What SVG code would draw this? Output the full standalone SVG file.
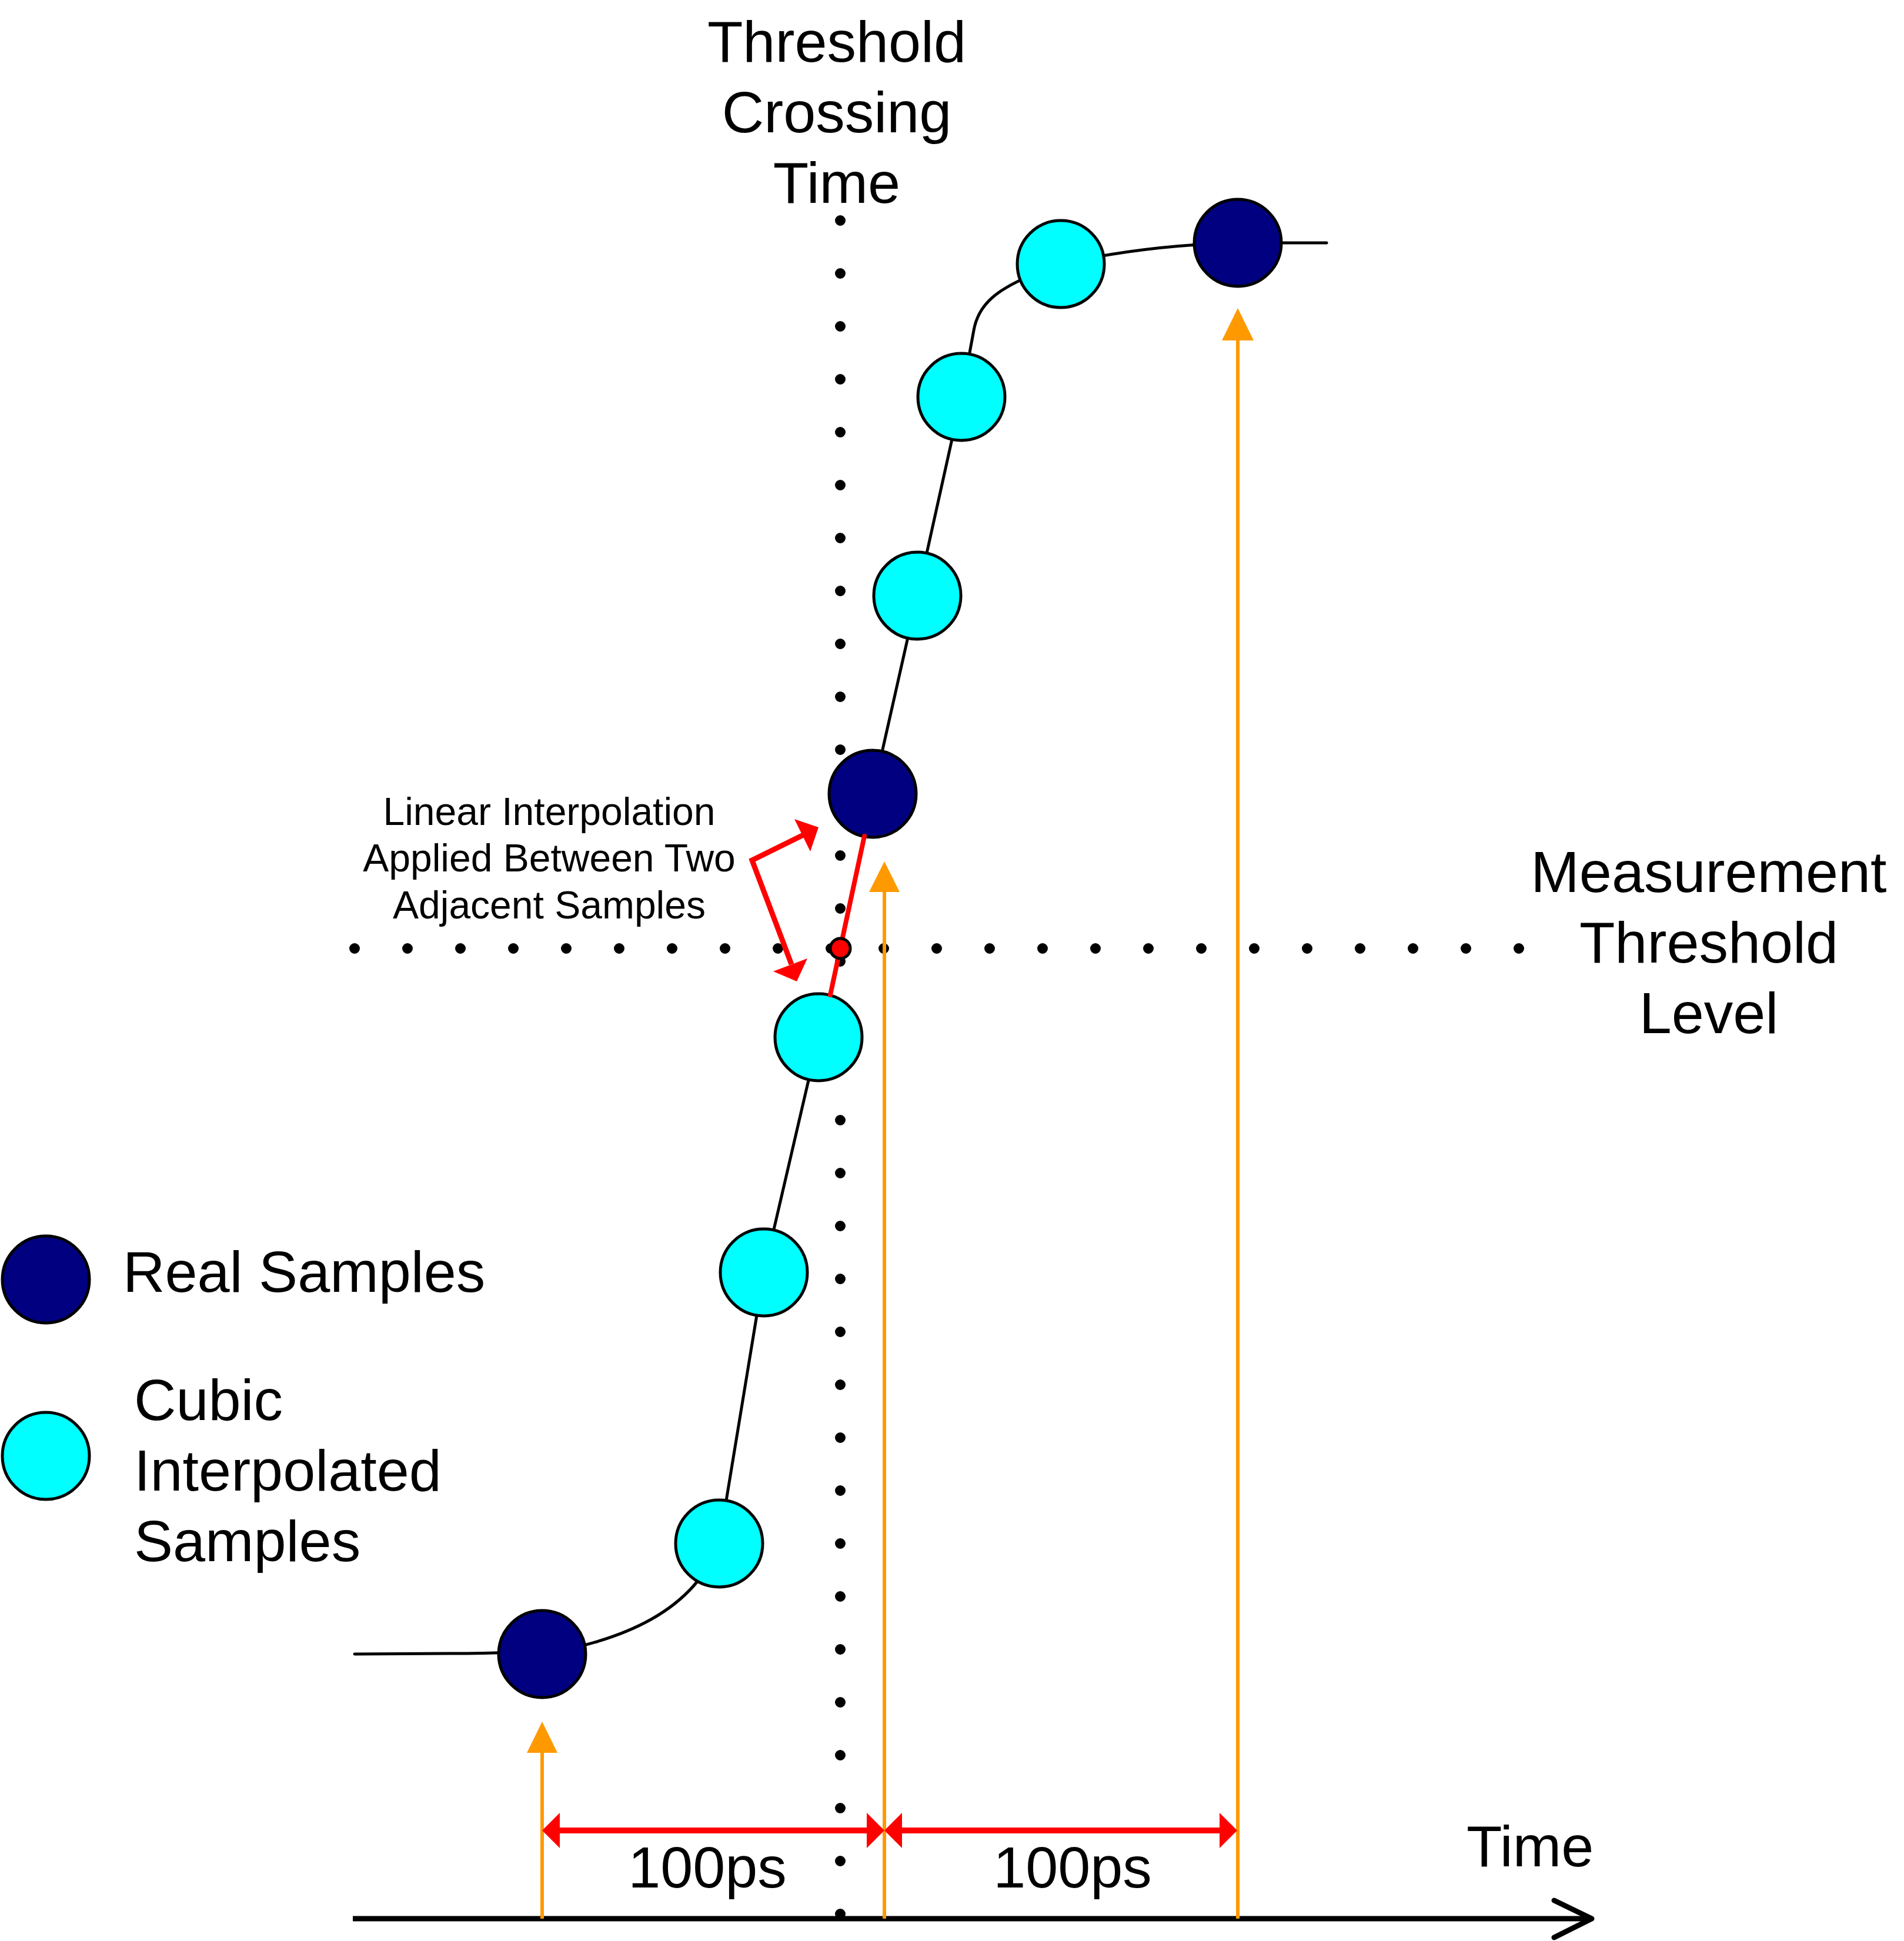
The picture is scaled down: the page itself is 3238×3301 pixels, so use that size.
<svg xmlns="http://www.w3.org/2000/svg" width="3238" height="3301" viewBox="0 0 3238 3301">
<style>
text{font-family:"Liberation Sans",Arial,sans-serif;fill:#000}
.big{font-size:99px}
.small{font-size:66px}
.mid{text-anchor:middle}
.real{fill:#000080;stroke:#000;stroke-width:5}
.cubic{fill:#00FFFF;stroke:#000;stroke-width:5}
.dots{fill:none;stroke:#000;stroke-width:18;stroke-linecap:round;stroke-dasharray:0 90}
.curve{fill:none;stroke:#000;stroke-width:5;stroke-linecap:round}
.orange{stroke:#FF9900;stroke-width:6;fill:none}
.ohead{fill:#FF9900}
.red{stroke:#FF0000;fill:none}
.rhead{fill:#FF0000}
</style>
<rect width="3238" height="3301" fill="#fff"/>

<g id="threshold-lines">
<line class="dots" x1="1429" y1="375" x2="1429" y2="3275"/>
<line class="dots" x1="603" y1="1613" x2="2600" y2="1613"/>
</g>

<g id="time-axis">
<line x1="600" y1="3263" x2="2700" y2="3263" stroke="#000" stroke-width="9"/>
<polyline points="2643,3232 2707,3263 2643,3295" fill="none" stroke="#000" stroke-width="9" stroke-linecap="round" stroke-linejoin="round"/>
</g>

<g id="connectors">
<path class="curve" d="M 603 2813 L 780 2812 Q 830 2812 922 2808 M 922 2813 C 1060 2790 1180 2740 1223 2625 L 1299 2164 L 1392 1764"/>
<path class="curve" d="M 1484 1350 L 1560 1013 L 1635 675 L 1656 562 C 1664 515 1700 492 1745 472 L 1804 449 C 1880 432 1980 416 2105 413 L 2256 413"/>
<g id="sample-arrows">
<line class="orange" x1="922" y1="3263" x2="922" y2="2975"/>
<polygon class="ohead" points="922,2928 896,2981 948,2981"/>
<line class="orange" x1="1504" y1="3263" x2="1504" y2="1512"/>
<polygon class="ohead" points="1504,1465 1478,1517 1530,1517"/>
<line class="orange" x1="2105" y1="3263" x2="2105" y2="574"/>
<polygon class="ohead" points="2105,524 2078,579 2132,579"/>
</g>
<g id="dimension-arrows">
<line class="red" x1="950" y1="3113" x2="1476" y2="3113" stroke-width="10"/>
<polygon class="rhead" points="922,3113 952,3083 952,3143"/>
<polygon class="rhead" points="1504,3113 1474,3083 1474,3143"/>
<line class="red" x1="1532" y1="3113" x2="2076" y2="3113" stroke-width="10"/>
<polygon class="rhead" points="1504,3113 1534,3083 1534,3143"/>
<polygon class="rhead" points="2104,3113 2074,3083 2074,3143"/>
</g>
<g id="annotation-arrow">
<polyline class="red" points="1366,1420 1279,1463 1346,1640" stroke-width="9" stroke-linejoin="miter"/>
<polygon class="rhead" points="1392,1407 1351,1393 1378,1448"/>
<polygon class="rhead" points="1355,1669 1315,1652 1373,1630"/>
</g>
</g>

<g id="nodes">
<circle id="real-1" class="real" cx="922" cy="2813" r="74"/>
<circle id="cubic-1" class="cubic" cx="1223" cy="2625" r="74"/>
<circle id="cubic-2" class="cubic" cx="1299" cy="2164" r="74"/>
<circle id="cubic-3" class="cubic" cx="1392" cy="1764" r="74"/>
<circle id="real-2" class="real" cx="1484" cy="1350" r="74"/>
<circle id="cubic-4" class="cubic" cx="1560" cy="1013" r="74"/>
<circle id="cubic-5" class="cubic" cx="1635" cy="675" r="74"/>
<circle id="cubic-6" class="cubic" cx="1804" cy="449" r="74"/>
<circle id="real-3" class="real" cx="2105" cy="413" r="74"/>
</g>

<g id="linear-interpolation">
<line class="red" x1="1470" y1="1422" x2="1412" y2="1692" stroke-width="8" stroke-linecap="round"/>
<circle cx="1429" cy="1613" r="17" fill="#FF0000" stroke="#000" stroke-width="5"/>
</g>

<g id="legend">
<g id="legend-real">
<circle class="real" cx="78" cy="2176" r="74"/>
<text class="big" x="209" y="2197">Real Samples</text>
</g>
<g id="legend-cubic">
<circle class="cubic" cx="78" cy="2476" r="74"/>
<text class="big" x="228" y="2415">Cubic</text>
<text class="big" x="228" y="2535">Interpolated</text>
<text class="big" x="228" y="2655">Samples</text>
</g>
</g>

<g id="labels">
<g id="label-crossing">
<text class="big mid" x="1423" y="105">Threshold</text>
<text class="big mid" x="1423" y="225">Crossing</text>
<text class="big mid" x="1423" y="345">Time</text>
</g>
<g id="label-level">
<text class="big mid" x="2906" y="1517">Measurement</text>
<text class="big mid" x="2906" y="1637">Threshold</text>
<text class="big mid" x="2906" y="1757">Level</text>
</g>
<g id="label-linear">
<text class="small mid" x="934" y="1403">Linear Interpolation</text>
<text class="small mid" x="934" y="1482">Applied Between Two</text>
<text class="small mid" x="934" y="1562">Adjacent Samples</text>
</g>
<text id="label-100ps-1" class="big mid" x="1203" y="3210">100ps</text>
<text id="label-100ps-2" class="big mid" x="1824" y="3210">100ps</text>
<text id="label-time" class="big" x="2494" y="3174">Time</text>
</g>
</svg>
